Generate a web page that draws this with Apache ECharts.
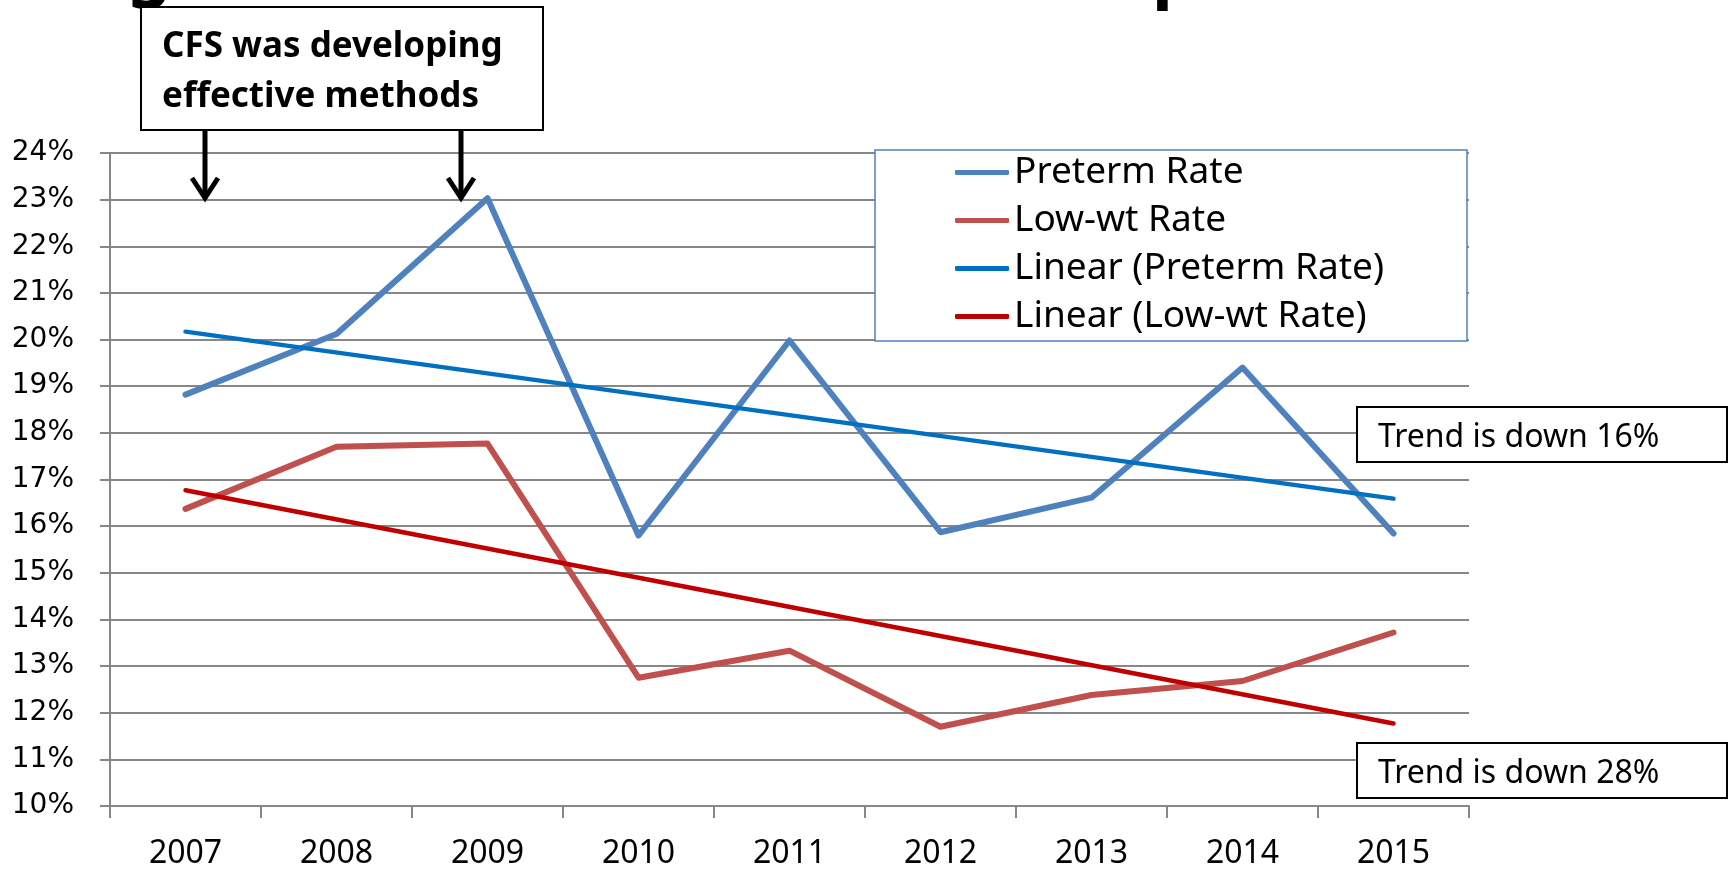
<!DOCTYPE html>
<html>
<head>
<meta charset="utf-8">
<script src="https://cdn.jsdelivr.net/npm/echarts@6/dist/echarts.min.js"></script>
<style>
html,body{margin:0;padding:0;background:#fff;}
#chart{width:1729px;height:870px;}
</style>
</head>
<body>
<div id="chart"></div>
<script>
// ---- data ----
const years = ['2007','2008','2009','2010','2011','2012','2013','2014','2015'];
const pretermRate = [18.82, 20.12, 23.03, 15.80, 19.98, 15.87, 16.61, 19.40, 15.84];
const lowWtRate   = [16.37, 17.70, 17.77, 12.75, 13.33, 11.70, 12.38, 12.68, 13.72];
// trend lines: end values (first and last year)
const linearPretermEnds = [20.17, 16.59];
const linearLowWtEnds   = [16.77, 11.77];
const seriesNames = ['Preterm Rate', 'Low-wt Rate', 'Linear (Preterm Rate)', 'Linear (Low-wt Rate)'];
const yTicks = {min: 10, max: 24, step: 1};
const noteText = 'CFS was developing\neffective methods';
const trendNotes = ['Trend is down 16%', 'Trend is down 28%'];

const chart = echarts.init(document.getElementById('chart'), null, {renderer: 'canvas'});
const gridColor = '#878787';
const first = years[0], last = years[years.length - 1];

function arrow(x) {
  return [
    {type: 'line', z: 20, shape: {x1: x, y1: 130, x2: x, y2: 195}, style: {stroke: '#000', lineWidth: 5}},
    {type: 'polyline', z: 20, shape: {points: [[x - 13, 178], [x, 198], [x + 13, 178]]}, style: {stroke: '#000', lineWidth: 5, fill: null, lineJoin: 'miter'}}
  ];
}

const option = {
  animation: false,
  backgroundColor: '#fff',
  grid: {left: 110, right: 260, top: 153, bottom: 64, containLabel: false, outerBoundsMode: 'none'},
  xAxis: {
    type: 'category',
    data: years,
    boundaryGap: true,
    axisLine: {show: true, lineStyle: {color: gridColor, width: 2}},
    axisTick: {show: true, length: 12, interval: 0, lineStyle: {color: gridColor, width: 2}},
    axisLabel: {fontFamily: 'Noto Sans', fontSize: 32, color: '#000', margin: 32, interval: 0},
    splitLine: {show: false}
  },
  yAxis: {
    type: 'value',
    min: yTicks.min, max: yTicks.max, interval: yTicks.step,
    axisLine: {show: true, lineStyle: {color: gridColor, width: 2}},
    axisTick: {show: true, length: 10, lineStyle: {color: gridColor, width: 2}},
    axisLabel: {formatter: '{value}%', fontFamily: 'DejaVu Sans', fontSize: 28, color: '#000', margin: 36},
    splitLine: {show: true, lineStyle: {color: gridColor, width: 2}}
  },
  legend: {
    show: true,
    orient: 'vertical',
    left: 955, top: 154,
    padding: 0,
    itemGap: 11,
    itemWidth: 54, itemHeight: 5,
    icon: 'roundRect',
    z: 10,
    textStyle: {fontFamily: 'Noto Sans', fontSize: 37, color: '#000'},
    data: seriesNames
  },
  series: [
    {name: seriesNames[0], type: 'line', data: pretermRate, symbol: 'none', z: 2,
     lineStyle: {color: '#4F81BD', width: 6, cap: 'round', join: 'round'}, itemStyle: {color: '#4F81BD'}},
    {name: seriesNames[1], type: 'line', data: lowWtRate, symbol: 'none', z: 2,
     lineStyle: {color: '#C0504D', width: 6, cap: 'round', join: 'round'}, itemStyle: {color: '#C0504D'}},
    {name: seriesNames[2], type: 'line', data: [[first, linearPretermEnds[0]], [last, linearPretermEnds[1]]], symbol: 'none', z: 3,
     lineStyle: {color: '#0070C0', width: 4.5, cap: 'round'}, itemStyle: {color: '#0070C0'}},
    {name: seriesNames[3], type: 'line', data: [[first, linearLowWtEnds[0]], [last, linearLowWtEnds[1]]], symbol: 'none', z: 3,
     lineStyle: {color: '#C00000', width: 4.5, cap: 'round'}, itemStyle: {color: '#C00000'}}
  ],
  graphic: [
    // cut-off title fragments at the top edge
    {type: 'text', z: 5, style: {x: 127, y: 7, text: 'g', font: 'bold 70px "Noto Sans"', fill: '#000', verticalAlign: 'bottom'}},
    {type: 'text', z: 5, style: {x: 1152, y: 9, text: 'p', font: 'bold 70px "Noto Sans"', fill: '#000', verticalAlign: 'bottom'}},
    // legend frame
    {type: 'rect', z: 4, shape: {x: 875, y: 150, width: 592, height: 191}, style: {fill: '#fff', stroke: '#4F81BD', lineWidth: 1.5}},
    // note box
    {type: 'rect', z: 15, shape: {x: 141, y: 7, width: 402, height: 123}, style: {fill: '#fff', stroke: '#000', lineWidth: 2}},
    {type: 'text', z: 16, style: {x: 162, y: 72, text: noteText, font: 'bold 35px "Noto Sans"', fill: '#000', verticalAlign: 'middle', lineHeight: 50}},
    ...arrow(205),
    ...arrow(461),
    // trend boxes
    {type: 'rect', z: 15, shape: {x: 1357, y: 407, width: 370, height: 55}, style: {fill: '#fff', stroke: '#000', lineWidth: 2}},
    {type: 'text', z: 16, style: {x: 1378, y: 438, text: trendNotes[0], font: '32px "Noto Sans"', fill: '#000', verticalAlign: 'middle'}},
    {type: 'rect', z: 15, shape: {x: 1357, y: 743, width: 370, height: 55}, style: {fill: '#fff', stroke: '#000', lineWidth: 2}},
    {type: 'text', z: 16, style: {x: 1378, y: 774, text: trendNotes[1], font: '32px "Noto Sans"', fill: '#000', verticalAlign: 'middle'}}
  ]
};
chart.setOption(option);
</script>
</body>
</html>
